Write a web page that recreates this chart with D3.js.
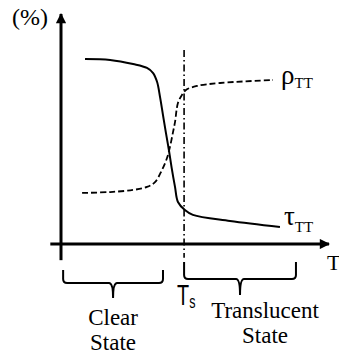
<!DOCTYPE html>
<html>
<head>
<meta charset="utf-8">
<script src="https://cdn.jsdelivr.net/npm/d3@7"></script>
<style>
  html, body { margin: 0; padding: 0; background: #fff; }
  svg { display: block; }
</style>
</head>
<body>
<svg id="chart" width="339" height="356"></svg>
<script>
// Temperature (arbitrary units) and percentage values of the two curves
const tauT   = [9.0, 18.4, 27.0, 32.2, 34.5, 36.0, 37.1, 38.2, 39.3, 40.4, 41.4, 42.7, 43.8, 46.4, 49.4, 63.3, 82.0];
const tauVal = [80.1, 79.7, 77.9, 76.2, 74.0, 70.1, 63.6, 55.8, 48.1, 40.7, 33.3, 24.7, 18.2, 14.7, 12.6, 10.0, 7.4];
const rhoT   = [7.9, 18.4, 27.0, 32.2, 35.2, 37.8, 39.7, 40.8, 41.9, 42.7, 43.8, 45.3, 46.8, 50.9, 59.6, 79.4];
const rhoVal = [22.1, 22.5, 23.4, 24.7, 26.8, 32.0, 37.2, 42.0, 48.1, 52.8, 61.0, 64.5, 66.7, 68.4, 69.7, 71.0];
// Switching temperature and the two state ranges
const switchT = 46.1;
const stateNames = ["Clear State", "Translucent State"];
const stateRanges = [[0.8, 38.2], [46.1, 88.0]];

const SERIF = "'Liberation Serif', 'DejaVu Serif', 'Times New Roman', Times, serif";
const SANS = "'Liberation Sans', Arial, sans-serif";

const svg = d3.select("#chart");
const x = d3.scaleLinear().domain([0, 100]).range([61, 328]);
const y = d3.scaleLinear().domain([0, 100]).range([244, 13]);

// arrow marker
const defs = svg.append("defs");
defs.append("marker").attr("id", "arr")
  .attr("viewBox", "0 0 10 10").attr("refX", 9).attr("refY", 5)
  .attr("markerWidth", 4.5).attr("markerHeight", 3.4).attr("markerUnits", "strokeWidth")
  .attr("orient", "auto")
  .append("path").attr("d", "M0,0 L10,5 L0,10 z").attr("fill", "#000");

// axes
svg.append("line")
  .attr("x1", x(0)).attr("y1", y(-7)).attr("x2", x(0)).attr("y2", y(100) + 1)
  .attr("stroke", "#000").attr("stroke-width", 3).attr("marker-end", "url(#arr)");
svg.append("line")
  .attr("x1", x(-4)).attr("y1", y(0)).attr("x2", x(100) + 1).attr("y2", y(0))
  .attr("stroke", "#000").attr("stroke-width", 3).attr("marker-end", "url(#arr)");

// switching temperature line
svg.append("line")
  .attr("x1", x(switchT)).attr("x2", x(switchT))
  .attr("y1", y(84)).attr("y2", y(-6))
  .attr("stroke", "#000").attr("stroke-width", 1.6)
  .attr("stroke-dasharray", "7,3,1.5,3");

const line = d3.line().x(d => x(d[0])).y(d => y(d[1])).curve(d3.curveCatmullRom.alpha(0.5));

svg.append("path")
  .datum(tauT.map((t, i) => [t, tauVal[i]]))
  .attr("d", line).attr("fill", "none").attr("stroke", "#000").attr("stroke-width", 2);

svg.append("path")
  .datum(rhoT.map((t, i) => [t, rhoVal[i]]))
  .attr("d", line).attr("fill", "none").attr("stroke", "#000").attr("stroke-width", 1.8)
  .attr("stroke-dasharray", "6,3");

// curve labels
const rhoLab = svg.append("text").style("font-family", SERIF)
  .attr("x", x(rhoT[rhoT.length - 1]) + 8).attr("y", y(rhoVal[rhoVal.length - 1]) + 4);
rhoLab.append("tspan").attr("font-size", 27).text("ρ");
rhoLab.append("tspan").attr("font-size", 15).attr("dy", 4).text("TT");

const tauLab = svg.append("text").style("font-family", SERIF)
  .attr("x", x(tauT[tauT.length - 1]) + 4).attr("y", y(tauVal[tauVal.length - 1]) - 2);
tauLab.append("tspan").attr("font-size", 27).text("τ");
tauLab.append("tspan").attr("font-size", 15).attr("dy", 7).text("TT");

svg.append("text").style("font-family", SERIF).attr("x", 12).attr("y", 25).attr("font-size", 24).text("(%)");
svg.append("text").style("font-family", SERIF).attr("x", x(100) - 1).attr("y", 270).attr("font-size", 22).text("T");

// T_s label
const ts = svg.append("g").attr("transform", `translate(${x(switchT) - 7},305) scale(0.66,1)`);
const tsText = ts.append("text").style("font-family", SANS);
tsText.append("tspan").attr("font-size", 30).text("T");
tsText.append("tspan").attr("font-size", 19).attr("dy", 3).text("s");

// braces marking the state ranges
const braceY = [[270, 283, 298], [262, 279, 295]];
function bracePath(x0, x1, top, mid, tip) {
  const xm = (x0 + x1) / 2, r = 4;
  const p = d3.path();
  p.moveTo(x0, top);
  p.lineTo(x0, mid - r);
  p.quadraticCurveTo(x0, mid, x0 + r, mid);
  p.lineTo(xm - r, mid);
  p.quadraticCurveTo(xm, mid, xm, tip);
  p.quadraticCurveTo(xm, mid, xm + r, mid);
  p.lineTo(x1 - r, mid);
  p.quadraticCurveTo(x1, mid, x1, mid - r);
  p.lineTo(x1, top);
  return p.toString();
}
stateRanges.forEach((r, i) => {
  const [top, mid, tip] = braceY[i];
  svg.append("path").attr("d", bracePath(x(r[0]), x(r[1]), top, mid, tip))
    .attr("fill", "none").attr("stroke", "#000").attr("stroke-width", 2);
});

// state labels
const labelPos = [[x((stateRanges[0][0] + stateRanges[0][1]) / 2), 325], [x((stateRanges[1][0] + stateRanges[1][1]) / 2) + 25, 318]];
stateNames.forEach((name, i) => {
  const t = svg.append("text").style("font-family", SERIF).attr("text-anchor", "middle").attr("font-size", 23);
  name.split(" ").forEach((w, j) => {
    t.append("tspan").attr("x", labelPos[i][0]).attr("y", labelPos[i][1] + j * 25).text(w);
  });
});
</script>
</body>
</html>
